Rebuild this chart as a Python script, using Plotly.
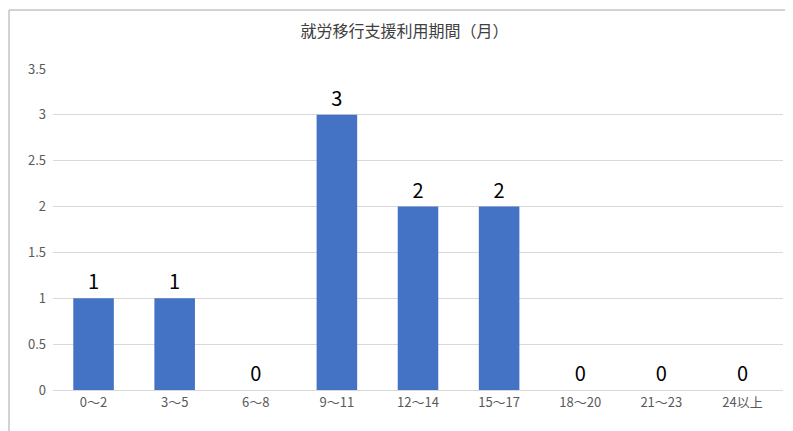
import plotly.graph_objects as go

categories = ["0～2", "3～5", "6～8", "9～11", "12～14", "15～17", "18～20", "21～23", "24以上"]
values = [1, 1, 0, 3, 2, 2, 0, 0, 0]

font = "Noto Sans CJK JP"
fig = go.Figure(go.Bar(
    x=categories, y=values, marker=dict(color="#4472C4", line=dict(width=0)),
    width=0.5, text=values, textposition="outside", cliponaxis=False,
    textfont=dict(size=20, color="#000000", family=font),
))
fig.update_layout(
    width=793, height=431, paper_bgcolor="white", plot_bgcolor="white",
    margin=dict(l=45, r=18, t=61, b=49, autoexpand=False),
    title=dict(text="就労移行支援利用期間（月）", x=0.5, xanchor="center", y=0.945, yanchor="middle",
               font=dict(size=16, color="#404040", family=font)),
    font=dict(family=font, color="#595959", size=13),
    showlegend=False,
    shapes=[dict(type="rect", xref="paper", yref="paper", x0=-44/730, x1=1+16/730,
                 y0=-47/321, y1=1+59/321, line=dict(color="#A6A6A6", width=1))],
)
fig.update_xaxes(showgrid=False, showline=True, linecolor="#D9D9D9", ticks="", automargin=False,
                 tickfont=dict(size=13))
fig.update_yaxes(range=[0, 3.5], dtick=0.5, showgrid=True, gridcolor="#D9D9D9", zeroline=False,
                 showline=False, automargin=False, tickfont=dict(size=13), ticklabelstandoff=6)
fig.write_html("out.html")
